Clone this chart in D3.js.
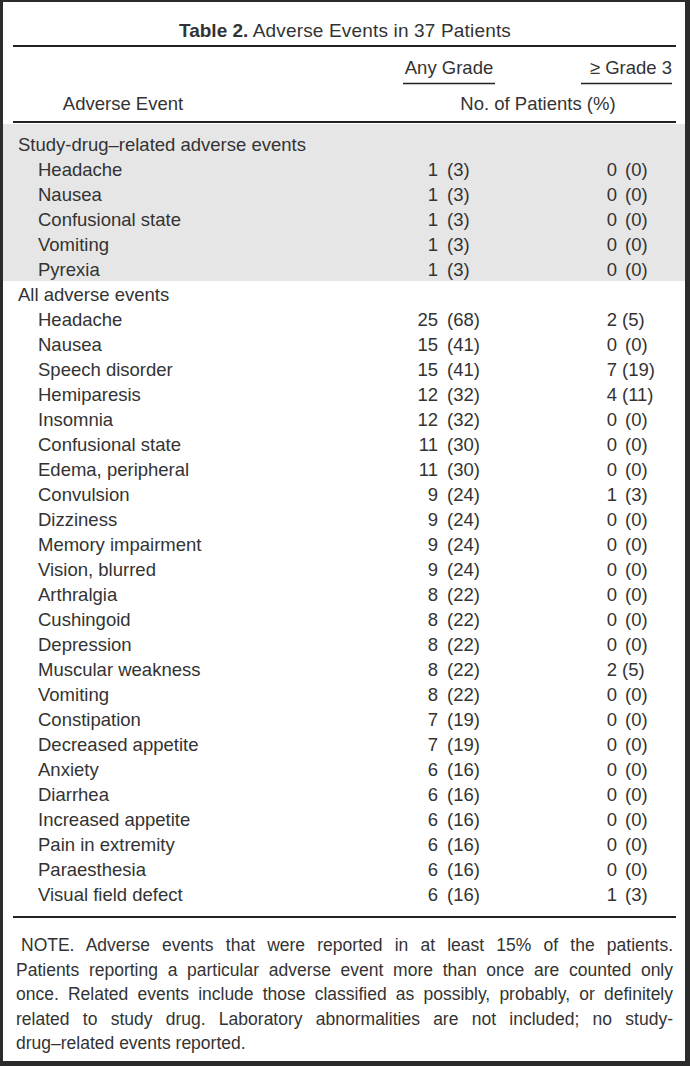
<!DOCTYPE html>
<meta charset="utf-8" />
<script src="https://d3js.org/d3.v7.min.js"></script>
<style>
  body { margin: 0; background: #fff; }
  text { font-family: "Liberation Sans", Arial, sans-serif; fill: #333; }
</style>
<div id="my_table"></div>
<script>
  // section 1: study-drug-related events
  const relatedEvents = ["Headache", "Nausea", "Confusional state", "Vomiting", "Pyrexia"];
  const relatedAnyN = [1, 1, 1, 1, 1];
  const relatedAnyPct = [3, 3, 3, 3, 3];
  const relatedG3N = [0, 0, 0, 0, 0];
  const relatedG3Pct = [0, 0, 0, 0, 0];

  // section 2: all adverse events
  const allEvents = [
    "Headache", "Nausea", "Speech disorder", "Hemiparesis", "Insomnia",
    "Confusional state", "Edema, peripheral", "Convulsion", "Dizziness",
    "Memory impairment", "Vision, blurred", "Arthralgia", "Cushingoid",
    "Depression", "Muscular weakness", "Vomiting", "Constipation",
    "Decreased appetite", "Anxiety", "Diarrhea", "Increased appetite",
    "Pain in extremity", "Paraesthesia", "Visual field defect"
  ];
  const allAnyN = [25, 15, 15, 12, 12, 11, 11, 9, 9, 9, 9, 8, 8, 8, 8, 8, 7, 7, 6, 6, 6, 6, 6, 6];
  const allAnyPct = [68, 41, 41, 32, 32, 30, 30, 24, 24, 24, 24, 22, 22, 22, 22, 22, 19, 19, 16, 16, 16, 16, 16, 16];
  const allG3N = [2, 0, 7, 4, 0, 0, 0, 1, 0, 0, 0, 0, 0, 0, 2, 0, 0, 0, 0, 0, 0, 0, 0, 1];
  const allG3Pct = [5, 0, 19, 11, 0, 0, 0, 3, 0, 0, 0, 0, 0, 0, 5, 0, 0, 0, 0, 0, 0, 0, 0, 3];

  const sectionTitles = ["Study-drug\u2013related adverse events", "All adverse events"];
  const columnHeads = ["Any Grade", "\u2265 Grade 3"];
  const noteLines = [
    "NOTE. Adverse events that were reported in at least 15% of the patients.",
    "Patients reporting a particular adverse event more than once are counted only",
    "once. Related events include those classified as possibly, probably, or definitely",
    "related to study drug. Laboratory abnormalities are not included; no study-",
    "drug\u2013related events reported."
  ];

  // build rows
  var rows = [];
  rows.push({ label: sectionTitles[0], head: true, shade: true });
  relatedEvents.forEach((e, i) =>
    rows.push({ label: e, shade: true, a: relatedAnyN[i], ap: relatedAnyPct[i], g: relatedG3N[i], gp: relatedG3Pct[i] })
  );
  rows.push({ label: sectionTitles[1], head: true });
  allEvents.forEach((e, i) =>
    rows.push({ label: e, a: allAnyN[i], ap: allAnyPct[i], g: allG3N[i], gp: allG3Pct[i] })
  );

  const width = 690, height = 1066;
  const left = 13, right = 676;
  const fs = 18.5;

  const svg = d3
    .select("#my_table")
    .append("svg")
    .attr("width", width)
    .attr("height", height);

  // frame
  svg.append("rect").attr("width", width).attr("height", height).attr("fill", "#2b2b2b");
  svg.append("rect").attr("x", 3).attr("y", 2).attr("width", width - 8).attr("height", height - 7).attr("fill", "#fff");

  // row baselines
  const y = d3.scaleLinear().domain([0, rows.length - 1]).range([151, 151 + 25 * (rows.length - 1)]);

  // title, fitted to the width it has in the print
  const title = svg.append("text").attr("x", 179).attr("y", 37).style("font-size", "19px");
  title.append("tspan").style("font-weight", "bold").text("Table 2.");
  const titleRest = title.append("tspan").text(" Adverse Events in 37 Patients");
  var tw = title.node().getComputedTextLength();
  titleRest.style("letter-spacing", Math.max(0, (511 - 179 - tw) / 30) + "px");

  // rules
  svg.append("line").attr("x1", left).attr("x2", right).attr("y1", 46).attr("y2", 46)
    .attr("stroke", "#222").attr("stroke-width", 2);
  svg.append("line").attr("x1", left).attr("x2", right).attr("y1", 122).attr("y2", 122)
    .attr("stroke", "#222").attr("stroke-width", 2);

  // column headers
  svg.append("text").attr("x", 449).attr("y", 74).attr("text-anchor", "middle")
    .style("font-size", fs + "px").text(columnHeads[0]);
  svg.append("line").attr("x1", 403).attr("x2", 495).attr("y1", 83.5).attr("y2", 83.5)
    .attr("stroke", "#222").attr("stroke-width", 1.5);
  svg.append("text").attr("x", 672).attr("y", 74).attr("text-anchor", "end")
    .style("font-size", fs + "px").text(columnHeads[1]);
  svg.append("line").attr("x1", 581).attr("x2", 672).attr("y1", 83.5).attr("y2", 83.5)
    .attr("stroke", "#222").attr("stroke-width", 1.5);
  svg.append("text").attr("x", 123).attr("y", 110).attr("text-anchor", "middle")
    .style("font-size", fs + "px").text("Adverse Event");
  svg.append("text").attr("x", 538).attr("y", 110).attr("text-anchor", "middle")
    .style("font-size", fs + "px").text("No. of Patients (%)");

  // shading for the related block
  const shaded = rows.filter((d) => d.shade);
  svg.append("rect")
    .attr("x", 3).attr("width", width - 8)
    .attr("y", y(0) - 27)
    .attr("height", y(shaded.length - 1) - y(0) + 32)
    .attr("fill", "#e6e6e6");

  // row labels
  svg.append("g").selectAll("text").data(rows).join("text")
    .attr("x", (d) => (d.head ? 18 : 38))
    .attr("y", (d, i) => y(i))
    .style("font-size", fs + "px")
    .text((d) => d.label);

  const valueRows = rows.map((d, i) => Object.assign({ i: i }, d)).filter((d) => !d.head);

  // counts right aligned, percentages start at the paren
  var g = svg.append("g");
  g.selectAll(".aN").data(valueRows).join("text").attr("class", "aN")
    .attr("x", 438).attr("y", (d) => y(d.i)).attr("text-anchor", "end")
    .style("font-size", fs + "px").text((d) => d.a);
  g.selectAll(".aP").data(valueRows).join("text").attr("class", "aP")
    .attr("x", 447).attr("y", (d) => y(d.i))
    .style("font-size", fs + "px").text((d) => "(" + d.ap + ")");
  g.selectAll(".gN").data(valueRows).join("text").attr("class", "gN")
    .attr("x", 617).attr("y", (d) => y(d.i)).attr("text-anchor", "end")
    .style("font-size", fs + "px").text((d) => d.g);
  g.selectAll(".gP").data(valueRows).join("text").attr("class", "gP")
    .attr("x", (d) => (d.g > 1 ? 622 : 625)).attr("y", (d) => y(d.i))
    .style("font-size", fs + "px").text((d) => "(" + d.gp + ")");

  // bottom rule
  const yBottom = y(rows.length - 1) + 16;
  svg.append("line").attr("x1", left).attr("x2", right).attr("y1", yBottom).attr("y2", yBottom)
    .attr("stroke", "#222").attr("stroke-width", 2);

  // note, justified
  const noteX = 16, noteR = 673;
  noteLines.forEach(function (line, i) {
    var t = svg.append("text")
      .attr("x", i == 0 ? noteX + 5 : noteX)
      .attr("y", yBottom + 34 + i * 24.5)
      .style("font-size", "17.5px")
      .text(line);
    if (i < noteLines.length - 1) {
      var natural = t.node().getComputedTextLength();
      var spaces = line.split(" ").length - 1;
      var target = noteR - (i == 0 ? noteX + 5 : noteX);
      t.style("word-spacing", (target - natural) / spaces + "px");
    }
  });
</script>
